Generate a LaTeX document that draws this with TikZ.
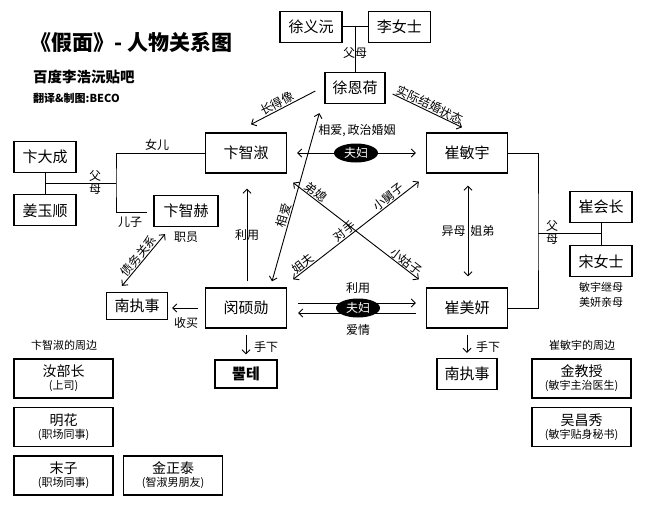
\documentclass[tikz,border=0pt]{standalone}
\usepackage{fontspec}
\setmainfont{Noto Sans CJK SC}
\newfontfamily\krfont{Noto Sans CJK KR}
\usetikzlibrary{positioning,arrows.meta,shapes.geometric}
\newcommand{\subtxt}[1]{{\fontsize{11}{13}\selectfont #1}}

\begin{document}
\begin{tikzpicture}[x=1pt, y=-1pt,
  box/.style={draw, line width=1.3pt, minimum width=81pt, minimum height=40pt, inner sep=0pt,
              font=\fontsize{15}{18}\selectfont},
  fam/.style={box, minimum width=62pt, minimum height=31pt},
  side/.style={box, minimum width=99pt, minimum height=39pt, align=center,
               font=\fontsize{14}{16}\selectfont},
  lbl/.style={font=\fontsize{12}{14}\selectfont, inner sep=1pt},
  slbl/.style={lbl, sloped, above, inner sep=0.5pt},
  note/.style={font=\fontsize{11}{15}\selectfont, align=center, inner sep=1pt},
  link/.style={line width=1pt},
  arr/.style={-{Straight Barb[length=4pt,width=8pt]}, line width=0.9pt},
  darr/.style={{Straight Barb[length=4pt,width=8pt]}-{Straight Barb[length=4pt,width=8pt]}, line width=0.9pt},
  couple/.style={ellipse, fill=black, text=white, minimum width=44pt, minimum height=19pt, inner sep=0pt,
                 font=\fontsize{12}{14}\selectfont}]
\useasboundingbox (0,0) rectangle (650,508);
\node[font=\fontsize{21}{24}\selectfont\bfseries, anchor=west, inner sep=0pt] (title) at (30,42) {《假面》- 人物关系图};
\node[font=\fontsize{14.5}{16}\selectfont\bfseries, anchor=west, inner sep=0pt] (tieba) at (33,77) {百度李浩沅贴吧};
\node[font=\fontsize{11}{13}\selectfont\bfseries, anchor=west, inner sep=0pt] (credit) at (33,98) {翻译\&制图:BECO};

\node[fam] (xuyiyuan) at (311,27) {徐义沅};
\node[fam, right=25pt of xuyiyuan] (linvshi) {李女士};
\coordinate (xupar) at (355,27);
\node[fam, minimum width=60pt] (xuenhe) at (355,88) {徐恩荷};
\node[box] (bianzhishu) at (246,153) {卞智淑};
\node[box] (cuiminyu) at (467,153) {崔敏宇};
\node[box] (minshuoxun) at (246,308) {闵硕勋};
\node[box] (cuimeiyan) at (467,308) {崔美妍};
\node[fam] (biandacheng) at (45,157) {卞大成};
\node[fam, below=21pt of biandacheng] (jiangyushun) {姜玉顺};
\node[fam, minimum width=64pt] (bianzhihe) at (186,211) {卞智赫};
\node[fam, minimum width=61pt, minimum height=27pt] (nanL) at (137,306) {南执事};
\node[fam, minimum height=28pt] (pulte) at (246,374) {\krfont\bfseries 뿔테};
\node[fam, minimum width=60pt] (nanR) at (467,374) {南执事};
\node[fam] (cuihuizhang) at (601,207) {崔会长};
\node[fam, below=22pt of cuihuizhang] (songnvshi) {宋女士};

\draw[link] (xuyiyuan) -- (linvshi);
\draw[link] (xupar) -- (xuenhe);
\node[lbl] (xufm) at (355,53) {父母};

\coordinate (bianpar) at (45,183);
\coordinate (bianfork) at (116,183);
\coordinate (bianson) at (147,212);
\draw[link] (biandacheng) -- (jiangyushun);
\draw[link] (bianpar) -- (bianfork);
\draw[link] (bianzhishu.west) -| (bianfork) |- (bianson);
\node[lbl] (nver) at (157,145) {女儿};
\node[lbl, align=center, font=\fontsize{12}{13}\selectfont] (bianfm) at (95,182) {父\\母};
\node[lbl] (erzi) at (130,222) {儿子};
\node[lbl] (zhiyuan) at (186,237) {职员};

\coordinate (cuifork) at (538,233);
\coordinate (cuipar) at (601,233);
\draw[link] (cuiminyu.east) -| (cuifork) |- (cuimeiyan.east);
\draw[link] (cuifork) -- (cuipar);
\draw[link] (cuihuizhang) -- (songnvshi);
\node[lbl, align=center, font=\fontsize{12}{13}\selectfont] (cuifm) at (552,232) {父\\母};
\node[note] (jimu) at (601,295) {敏宇继母\\美妍亲母};

\draw[arr] ([shift={(-9,3)}]xuenhe.west) -- node[slbl, pos=0.55] {长得像} ([shift={(5,-8)}]bianzhishu.north);
\draw[arr] ([shift={(7,6)}]xuenhe.east) -- node[slbl] {实际结婚状态} ([shift={(-5,-5)}]cuiminyu.north);
\draw[darr] ([xshift=10pt]bianzhishu.east) -- ([xshift=-10pt]cuiminyu.west);
\node[couple] (fufu1) at (356,153) {夫妇};
\node[lbl] (xiangai) at (357,131) {相爱,\,政治婚姻};
\draw[darr] ([shift={(26,-6)}]minshuoxun.north) -- node[slbl, pos=0.38] {相爱} ([shift={(-5,9)}]xuenhe.south west);
\draw[darr] ([shift={(6,9)}]bianzhishu.south east) -- node[slbl, pos=0.15] {弟媳}
  node[slbl, pos=0.87] {小姑子} ([shift={(-7,-8)}]cuimeiyan.north west);
\draw[darr] ([shift={(6,-8)}]minshuoxun.north east) -- node[slbl, pos=0.11] {姐夫}
  node[slbl, pos=0.44] {对手} node[slbl, pos=0.79] {小舅子} ([shift={(-7,8)}]cuiminyu.south west);
\draw[arr] ([shift={(1,-6)}]minshuoxun.north) -- node[lbl] {利用} ([shift={(1,15)}]bianzhishu.south);
\draw[darr] ([shift={(1,12)}]cuiminyu.south) -- node[lbl, left=1pt] {异母} node[lbl, right=1pt] {姐弟} ([shift={(1,-11)}]cuimeiyan.north);

\draw[arr] ([shift={(11,-5)}]minshuoxun.east) -- ([shift={(-10,-5)}]cuimeiyan.west);
\draw[arr] ([shift={(-10,5)}]cuimeiyan.west) -- ([shift={(11,5)}]minshuoxun.east);
\node[couple] (fufu2) at (358,308) {夫妇};
\node[lbl] (liyong) at (358,288) {利用};
\node[lbl] (aiqing) at (358,330) {爱情};

\draw[arr, shorten <=7pt, shorten >=4pt] (minshuoxun.west) -- (minshuoxun.west -| nanL.east);
\node[lbl] (shoumai) at (186,323) {收买};
\draw[darr] ([shift={(-21,7)}]bianzhihe.south) -- node[slbl] {债务关系} ([shift={(-15,-6)}]nanL.north);
\draw[arr, shorten <=6pt, shorten >=5pt] (minshuoxun) -- (pulte);
\node[lbl, anchor=west] (shouxiaL) at (253,347) {手下};
\draw[arr, shorten <=6pt, shorten >=5pt] (cuimeiyan) -- (nanR);
\node[lbl, anchor=west] (shouxiaR) at (475,347) {手下};

\node[note] (bzsside) at (64,345) {卞智淑的周边};
\node[side] (rubuzhang) at (63.5,378.5) {汝部长\\[-3pt]\subtxt{(上司)}};
\node[side] (minghua) at (63.5,427) {明花\\[-3pt]\subtxt{(职场同事)}};
\node[side] (mozi) at (63.5,475.5) {末子\\[-3pt]\subtxt{(职场同事)}};
\node[side] (jinzhengtai) at (173,475.5) {金正泰\\[-3pt]\subtxt{(智淑男朋友)}};
\node[note] (cmyside) at (582,345) {崔敏宇的周边};
\node[side] (jinjiaoshou) at (581.5,378.5) {金教授\\[-3pt]\subtxt{(敏宇主治医生)}};
\node[side] (wuchangxiu) at (581.5,427) {吴昌秀\\[-3pt]\subtxt{(敏宇贴身秘书)}};
\end{tikzpicture}
\end{document}
